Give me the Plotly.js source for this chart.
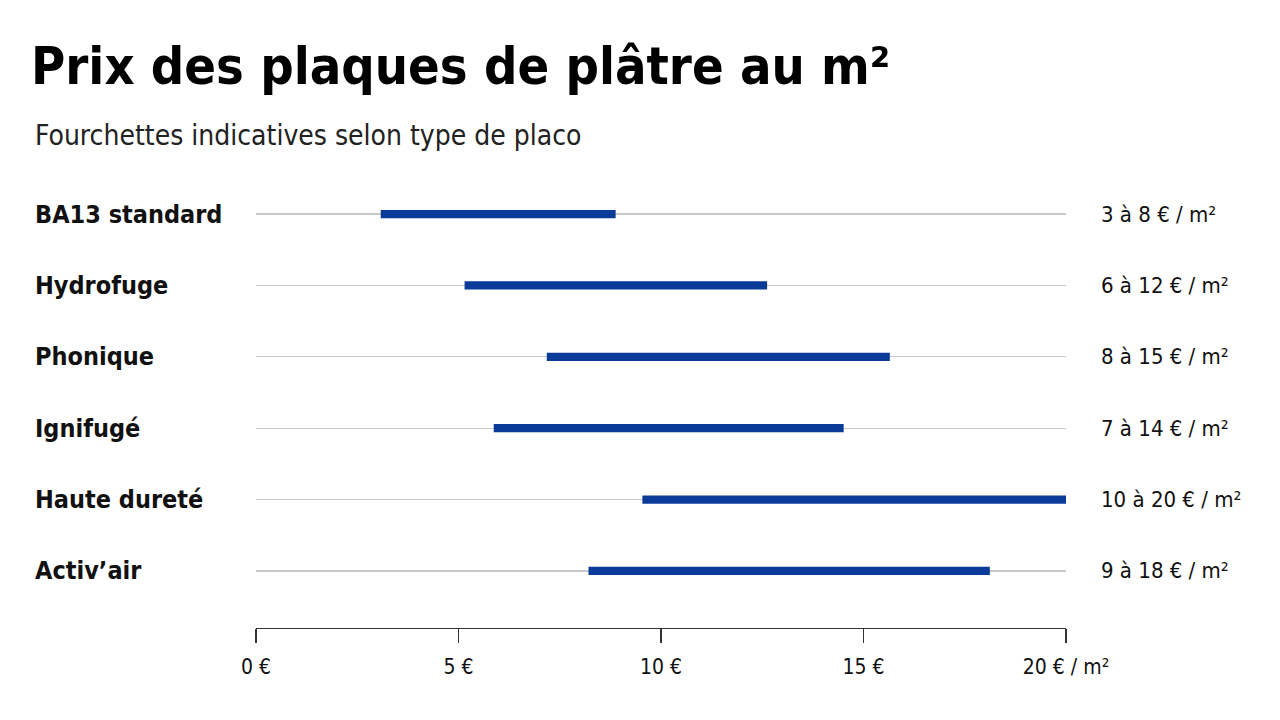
<!DOCTYPE html>
<html>
<head>
<meta charset="utf-8">
<script src="https://cdn.plot.ly/plotly-3.0.1.min.js"></script>
<style>
  html, body { margin: 0; padding: 0; background: #fff; }
  #chart { width: 1280px; height: 720px; }
</style>
</head>
<body>
<div id="chart"></div>
<script>
// types de placo, du haut vers le bas
var categories = ['BA13 standard', 'Hydrofuge', 'Phonique', 'Ignifugé', 'Haute dureté', 'Activ\u2019air'];
// bornes des barres (€/m²)
var lowValues  = [3.08, 5.15, 7.18, 5.87, 9.54, 8.21];
var highValues = [8.88, 12.62, 15.65, 14.51, 20.0, 18.12];
// étiquettes de droite
var rangeLabels = ['3 à 8 € / m²', '6 à 12 € / m²', '8 à 15 € / m²', '7 à 14 € / m²', '10 à 20 € / m²', '9 à 18 € / m²'];
var tickValues = [0, 5, 10, 15, 20];
var tickLabels = ['0 €', '5 €', '10 €', '15 €', '20 € / m²'];

var narrow = '"DejaVu Sans Condensed", "Liberation Sans Narrow", sans-serif';
var blue = '#0b3b98';

var rows = categories.map(function (c, i) { return i; });

var bars = {
  type: 'bar',
  orientation: 'h',
  y: rows,
  base: lowValues,
  x: highValues.map(function (h, i) { return h - lowValues[i]; }),
  width: 0.115,
  marker: { color: blue, line: { width: 0 } },
  hoverinfo: 'skip',
  showlegend: false
};

var annotations = [];
categories.forEach(function (c, i) {
  annotations.push({
    xref: 'paper', yref: 'y', x: -0.2753, y: i,
    xanchor: 'left', yanchor: 'middle', showarrow: false,
    text: '<b>' + c + '</b>',
    font: { family: narrow, size: 25, color: '#111' }
  });
  annotations.push({
    xref: 'paper', yref: 'y', x: 1.0405, y: i,
    xanchor: 'left', yanchor: 'middle', showarrow: false,
    text: rangeLabels[i],
    font: { family: narrow, size: 22, color: '#111' }
  });
});
// sous-titre
annotations.push({
  xref: 'paper', yref: 'paper', x: -0.2753, y: 1.0467,
  xanchor: 'left', yanchor: 'middle', showarrow: false,
  text: 'Fourchettes indicatives selon type de placo',
  font: { family: narrow, size: 28, color: '#222' }
});

var layout = {
  width: 1280, height: 720,
  paper_bgcolor: '#fff', plot_bgcolor: '#fff',
  margin: { l: 256, r: 214, t: 157, b: 92 },
  title: {
    text: '<b>Prix des plaques de plâtre au m²</b>',
    xref: 'container', yref: 'container',
    x: 31 / 1280, xanchor: 'left',
    y: 1 - 66 / 720, yanchor: 'middle',
    font: { family: narrow, size: 52, color: '#000' }
  },
  xaxis: {
    range: [0, 20],
    tickvals: tickValues, ticktext: tickLabels,
    showgrid: false, zeroline: false,
    showline: true, linecolor: '#333', linewidth: 1.3,
    ticks: 'outside', ticklen: 14, tickcolor: '#333', tickwidth: 1.3,
    ticklabelstandoff: 5,
    tickfont: { family: narrow, size: 21, color: '#111' },
    fixedrange: true
  },
  yaxis: {
    range: [5.8, -0.8],
    tickvals: rows, showticklabels: false,
    showgrid: true, gridcolor: '#c8c8c8', gridwidth: 1.3,
    zeroline: false, fixedrange: true
  },
  annotations: annotations
};

Plotly.newPlot('chart', [bars], layout, { displayModeBar: false, staticPlot: true });
</script>
</body>
</html>
